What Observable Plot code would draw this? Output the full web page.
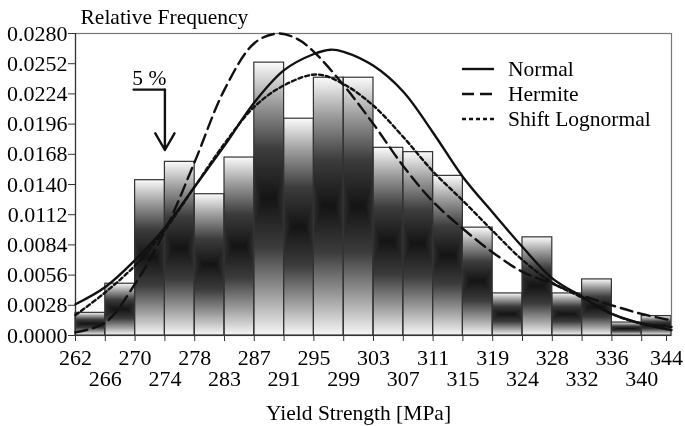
<!DOCTYPE html>
<html><head><meta charset="utf-8">
<script src="https://cdn.jsdelivr.net/npm/d3@7"></script>
<script src="https://cdn.jsdelivr.net/npm/@observablehq/plot@0.6"></script>
<style>
html,body{margin:0;padding:0;background:#fff;}
#chart{width:685px;height:426px;}
</style></head><body><div id="chart"></div>
<script>
// ---- data ----
const binEdges = [262, 266.1, 270.2, 274.3, 278.4, 282.5, 286.6, 290.7, 294.8, 298.9, 303.0,
                  307.1, 311.2, 315.3, 319.4, 323.5, 327.6, 331.7, 335.8, 339.9, 344];
const tickLabels = ["262","266","270","274","278","283","287","291","295","299","303",
                    "307","311","315","319","324","328","332","336","340","344"];
const relFreq = [0.0021, 0.0048, 0.0144, 0.0161, 0.0131, 0.0165, 0.0253, 0.0201, 0.0239, 0.0239,
                 0.0174, 0.0170, 0.0148, 0.0100, 0.0039, 0.0091, 0.0039, 0.0052, 0.0012, 0.0018];
const yTicks = [0.0000, 0.0028, 0.0056, 0.0084, 0.0112, 0.0140, 0.0168, 0.0196, 0.0224, 0.0252, 0.0280];

const normalX = [262, 266.1, 270.2, 274.3, 278.4, 282.5, 286.6, 290.7, 294.8, 297.1, 298.9, 303.0,
                 307.1, 311.2, 315.3, 319.4, 323.5, 327.6, 331.7, 335.8, 339.9, 344];
const normalY = [0.0029, 0.0045, 0.0070, 0.0100, 0.0138, 0.0176, 0.0216, 0.0246, 0.0261, 0.0265, 0.0263, 0.0250,
                 0.0226, 0.0188, 0.0147, 0.0114, 0.0082, 0.0053, 0.0036, 0.0020, 0.0011, 0.0005];
const hermiteX = [262, 266.1, 270.2, 274.3, 278.4, 282.5, 286.6, 289.8, 292.5, 294.8, 298.9, 303.0,
                  307.1, 311.2, 315.3, 319.4, 323.5, 327.6, 331.7, 335.8, 339.9, 344];
const hermiteY = [0.0003, 0.0012, 0.0048, 0.0097, 0.0161, 0.0228, 0.0271, 0.0280, 0.0275, 0.0263, 0.0232, 0.0196,
                  0.0157, 0.0124, 0.0099, 0.0077, 0.0059, 0.0048, 0.0037, 0.0028, 0.0020, 0.0014];
const lognormX = [262, 266.1, 270.2, 274.3, 278.4, 282.5, 286.6, 290.7, 295.2, 298.9, 303.0,
                  307.1, 311.2, 315.3, 319.4, 323.5, 327.6, 331.7, 335.8, 339.9, 344];
const lognormY = [0.0019, 0.0040, 0.0065, 0.0098, 0.0138, 0.0178, 0.0212, 0.0232, 0.0242, 0.0233, 0.0213,
                  0.0184, 0.0152, 0.0125, 0.0097, 0.0070, 0.0049, 0.0035, 0.0020, 0.0011, 0.0008];

const seriesNames = ["Normal", "Hermite", "Shift Lognormal"];
const annotText = "5 %";
const annotX = [270.0, 274.3];
const annotYLevel = 0.0228;
const annotYTip = 0.0172;

// ---- build tables ----
const bars = relFreq.map((f, i) => ({x1: binEdges[i], x2: binEdges[i + 1], y: f}));
const toPts = (xs, ys) => xs.map((x, i) => ({x, y: ys[i]}));
const normalPts = toPts(normalX, normalY);
const hermitePts = toPts(hermiteX, hermiteY);
const lognormPts = toPts(lognormX, lognormY);
const labelOf = new Map(binEdges.map((e, i) => [e, tickLabels[i]]));
const lastEdge = binEdges[binEdges.length - 1];
const evenEdges = binEdges.filter((e, i) => i % 2 === 0 && e !== lastEdge);
const oddEdges = binEdges.filter((_, i) => i % 2 === 1);

const FONT = "'Liberation Serif','Times New Roman',serif";
const DASH = "12,6";
const DOT = "4,3";
const curveStyle = {x: "x", y: "y", stroke: "#111", strokeWidth: 2.4, curve: "catmull-rom"};

const plot = Plot.plot({
  width: 685,
  height: 426,
  marginLeft: 75,
  marginRight: 14,
  marginTop: 33,
  marginBottom: 91,
  style: {fontFamily: FONT, fontSize: "22px", background: "#fff", color: "#000", overflow: "visible"},
  x: {domain: [262, 344]},
  y: {domain: [0, 0.028]},
  marks: [
    Plot.rect(bars, {x1: "x1", x2: "x2", y1: 0, y2: "y", fill: "url(#vgrad)"}),
    Plot.rect(bars, {x1: "x1", x2: "x2", y1: 0, y2: "y", fill: "url(#hgrad)", mixBlendMode: "lighten"}),
    Plot.rect(bars, {x1: "x1", x2: "x2", y1: 0, y2: "y", fill: "none", stroke: "#333", strokeWidth: 1.2}),
    Plot.frame({stroke: "#777", strokeWidth: 1.2}),
    Plot.ruleY([0], {stroke: "#333", strokeWidth: 1.2}),
    Plot.ruleX([262], {stroke: "#333", strokeWidth: 1.2}),
    Plot.line(normalPts, {...curveStyle}),
    Plot.line(hermitePts, {...curveStyle, strokeDasharray: DASH}),
    Plot.line(lognormPts, {...curveStyle, strokeDasharray: DOT}),
    Plot.axisY({ticks: yTicks, tickFormat: d => d.toFixed(4), tickSize: 7, tickPadding: 1, label: null, stroke: "#333"}),
    Plot.axisX({ticks: evenEdges, tickFormat: d => labelOf.get(d), tickSize: 6, tickPadding: 8, label: null, stroke: "#333"}),
    Plot.axisX({ticks: [lastEdge], tickFormat: d => labelOf.get(d), tickSize: 6, tickPadding: 8, label: null, stroke: "#333", dx: -5}),
    Plot.axisX({ticks: oddEdges, tickFormat: d => labelOf.get(d), tickSize: 6, tickPadding: 29, label: null, stroke: "#333"}),
    Plot.text(["Relative Frequency"], {text: d => d, frameAnchor: "top-left", textAnchor: "start", lineAnchor: "bottom", dx: 5, dy: -10, fontSize: 21.5}),
    Plot.text(["Yield Strength [MPa]"], {text: d => d, frameAnchor: "bottom", lineAnchor: "bottom", dx: -15, dy: 84, fontSize: 21.5}),
    // 5 % annotation
    Plot.line([{x: annotX[0], y: annotYLevel}, {x: annotX[1], y: annotYLevel}], {x: "x", y: "y", stroke: "#111", strokeWidth: 2.4}),
    Plot.arrow([{x: annotX[1], y1: annotYLevel, y2: annotYTip}], {x: "x", y1: "y1", y2: "y2", stroke: "#111", strokeWidth: 2.4, headLength: 12, headAngle: 60}),
    Plot.text([annotText], {text: d => d, x: (annotX[0] + annotX[1]) / 2, y: annotYLevel, lineAnchor: "bottom", dy: -5, fontSize: 21.5})
  ]
});

// gradients for bar fills
const svg = d3.select(plot);
const defs = svg.insert("defs", ":first-child");
const vg = defs.append("linearGradient").attr("id", "vgrad").attr("x1", 0).attr("y1", 0).attr("x2", 0).attr("y2", 1);
[[0, "#fbfbfb"], [0.15, "#9c9c9c"], [0.32, "#3c3c3c"], [0.5, "#141414"], [0.68, "#3c3c3c"], [0.85, "#9c9c9c"], [1, "#f6f6f6"]]
  .forEach(([o, c]) => vg.append("stop").attr("offset", o).attr("stop-color", c));
const hg = defs.append("linearGradient").attr("id", "hgrad").attr("x1", 0).attr("y1", 0).attr("x2", 1).attr("y2", 0);
[[0, "#2e2e2e"], [0.5, "#000"], [1, "#2e2e2e"]].forEach(([o, c]) => hg.append("stop").attr("offset", o).attr("stop-color", c));

// legend (drawn inside the plot, top-right)
const legendStyles = ["none", DASH, DOT];
const lg = svg.append("g").attr("font-family", FONT).attr("font-size", 21.5).attr("fill", "#000").attr("text-anchor", "start");
seriesNames.forEach((name, i) => {
  const yy = 69 + i * 25;
  lg.append("line").attr("x1", 462).attr("x2", 494).attr("y1", yy).attr("y2", yy)
    .attr("stroke", "#111").attr("stroke-width", 2.4).attr("stroke-dasharray", legendStyles[i]);
  lg.append("text").attr("x", 508).attr("y", yy).attr("dy", "0.32em").attr("text-anchor", "start").text(name);
});

document.getElementById("chart").appendChild(plot);
</script>
</body></html>
